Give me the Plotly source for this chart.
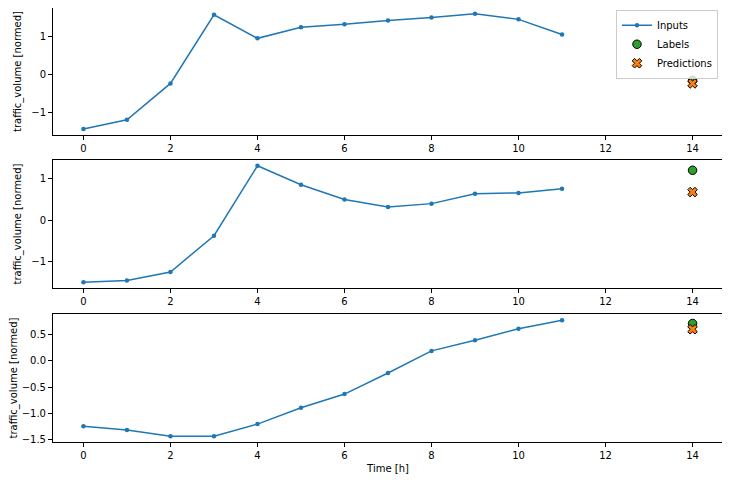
import plotly.graph_objects as go

time_steps = list(range(12))
label_time = [14]

inputs_1 = [-1.44, -1.20, -0.24, 1.57, 0.95, 1.24, 1.32, 1.42, 1.50, 1.60, 1.45, 1.05]
label_1 = [-0.16]
pred_1 = [-0.24]

inputs_2 = [-1.51, -1.47, -1.26, -0.38, 1.32, 0.86, 0.50, 0.32, 0.40, 0.64, 0.66, 0.76]
label_2 = [1.21]
pred_2 = [0.68]

inputs_3 = [-1.24, -1.31, -1.43, -1.43, -1.20, -0.89, -0.63, -0.23, 0.19, 0.39, 0.61, 0.77]
label_3 = [0.71]
pred_3 = [0.60]

x_ticks = [0, 2, 4, 6, 8, 10, 12, 14]
y_ticks_12 = [-1, 0, 1]
y_ticks_3 = [-1.5, -1.0, -0.5, 0.0, 0.5]

BLUE = "#1f77b4"
GREEN = "#2ca02c"
ORANGE = "#ff7f0e"
FONT = "DejaVu Sans"

# The page body has an 8px default margin; the figure is sized to fit inside the window.
panels = [
    (inputs_1, label_1, pred_1, [-1.60, 1.75], y_ticks_12, "d", [0.7074, 1.0]),
    (inputs_2, label_2, pred_2, [-1.65, 1.46], y_ticks_12, "d", [0.3548, 0.6498]),
    (inputs_3, label_3, pred_3, [-1.54, 0.89], y_ticks_3, ".1f", [0.0, 0.2949]),
]

fig = go.Figure()
layout = {}
for i, (inp, lab, pred, yr, yt, yfmt, dom) in enumerate(panels):
    n = i + 1
    xa = "x" if n == 1 else f"x{n}"
    ya = "y" if n == 1 else f"y{n}"
    first = n == 1
    fig.add_trace(go.Scatter(
        x=time_steps, y=inp, mode="lines+markers", name="Inputs",
        line=dict(color=BLUE, width=1.5), marker=dict(color=BLUE, size=4.5),
        xaxis=xa, yaxis=ya, showlegend=first, legendgroup="inp"))
    fig.add_trace(go.Scatter(
        x=label_time, y=lab, mode="markers", name="Labels",
        marker=dict(color=GREEN, size=8.5, symbol="circle", line=dict(color="black", width=1)),
        xaxis=xa, yaxis=ya, showlegend=first, legendgroup="lab"))
    fig.add_trace(go.Scatter(
        x=label_time, y=pred, mode="markers", name="Predictions",
        marker=dict(color=ORANGE, size=8.5, symbol="x", line=dict(color="black", width=1)),
        xaxis=xa, yaxis=ya, showlegend=first, legendgroup="pred"))
    axis_common = dict(showline=True, mirror=True, linecolor="black", linewidth=1,
                       ticks="outside", ticklen=4, tickcolor="black", tickwidth=1,
                       showgrid=False, zeroline=False, automargin=False,
                       tickfont=dict(family=FONT, size=10, color="black"))
    xkey = "xaxis" if n == 1 else f"xaxis{n}"
    ykey = "yaxis" if n == 1 else f"yaxis{n}"
    layout[xkey] = dict(axis_common, range=[-0.7, 14.7], tickvals=x_ticks,
                        anchor=ya, domain=[0, 1])
    if n == 3:
        layout[xkey]["title"] = dict(text="Time [h]", font=dict(family=FONT, size=10, color="black"), standoff=4)
    layout[ykey] = dict(axis_common, range=yr, tickvals=yt, tickformat=yfmt,
                        anchor=xa, domain=dom,
                        title=dict(text="traffic_volume [normed]", font=dict(family=FONT, size=10, color="black"), standoff=7))

fig.update_layout(template="none")
fig.update_layout(**layout)
fig.update_layout(
    width=722, height=472,
    margin=dict(l=45, r=7, t=0, b=38, pad=0),
    paper_bgcolor="white", plot_bgcolor="white",
    font=dict(family=FONT, size=10, color="black"),
    legend=dict(x=0.9925, y=0.996, xanchor="right", yanchor="top",
                bgcolor="rgba(255,255,255,0.8)", bordercolor="#cccccc", borderwidth=1,
                font=dict(family=FONT, size=10, color="black"),
                tracegroupgap=0, itemwidth=30),
)

fig.write_html("out.html")
